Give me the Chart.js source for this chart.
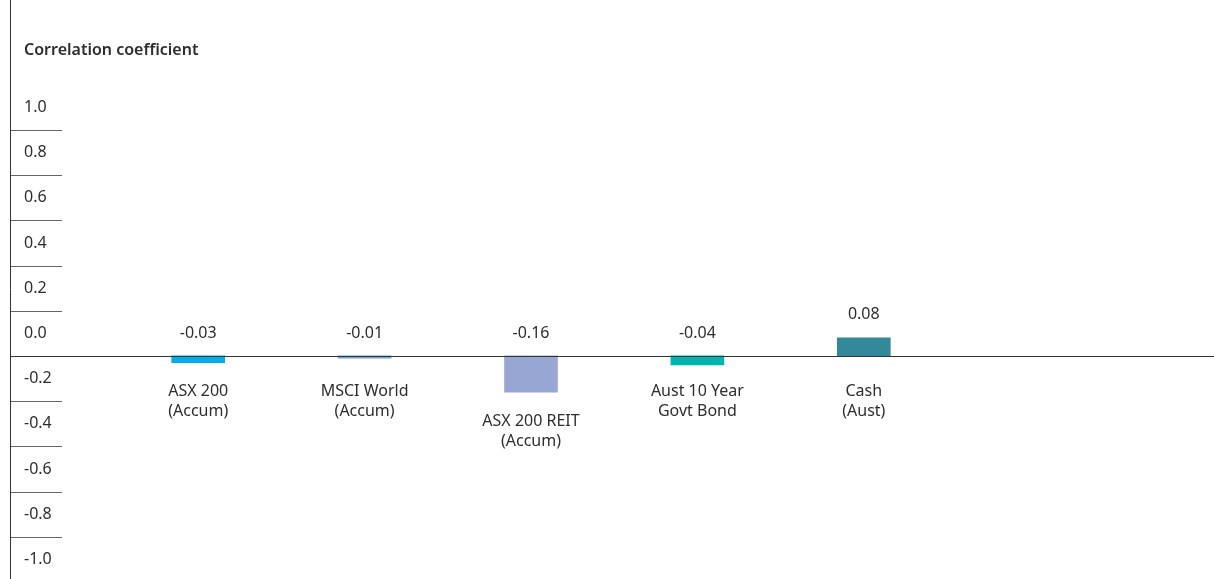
<!DOCTYPE html>
<html>
<head>
<meta charset="utf-8">
<script src="https://cdn.jsdelivr.net/npm/chart.js@4"></script>
<style>
  html, body { margin: 0; padding: 0; background: #fff; }
  #wrap { width: 1214px; height: 579px; position: relative; }
</style>
</head>
<body>
<div id="wrap"><canvas id="chart"></canvas></div>
<script>
const categories = [
  ["ASX 200", "(Accum)"],
  ["MSCI World", "(Accum)"],
  ["ASX 200 REIT", "(Accum)"],
  ["Aust 10 Year", "Govt Bond"],
  ["Cash", "(Aust)"]
];
const correlations = [-0.03, -0.01, -0.16, -0.04, 0.08];
const tickValues = [1.0, 0.8, 0.6, 0.4, 0.2, 0.0, -0.2, -0.4, -0.6, -0.8, -1.0];
const tickLabels = ["1.0", "0.8", "0.6", "0.4", "0.2", "0.0", "-0.2", "-0.4", "-0.6", "-0.8", "-1.0"];
const axisTitle = "Correlation coefficient";

const barColors = ["#00adee", "#6ca6d9", "#98a6d3", "#00b6b0", "#33889a"];
const FONT = "'Noto Sans', sans-serif";
const TEXT = "#2e2e2e";

// axis, tick stubs, value labels and category labels
const decor = {
  id: "decor",
  afterDraw(chart) {
    const ctx = chart.ctx;
    const y = chart.scales.y;
    const x = chart.scales.x;
    const zero = y.getPixelForValue(0);
    ctx.save();

    ctx.fillStyle = TEXT;
    ctx.font = "600 16px " + FONT;
    ctx.textAlign = "left";
    ctx.textBaseline = "middle";
    ctx.fillText(axisTitle, 24, 50);

    ctx.font = "16px " + FONT;
    tickValues.forEach((v, i) => {
      ctx.fillText(tickLabels[i], 24, y.getPixelForValue(v + 0.1));
      if (v !== 0) {
        const py = Math.round(y.getPixelForValue(v)) + 0.5;
        ctx.strokeStyle = "#666";
        ctx.lineWidth = 1;
        ctx.beginPath();
        ctx.moveTo(10, py);
        ctx.lineTo(62, py);
        ctx.stroke();
      }
    });

    ctx.strokeStyle = "#333";
    ctx.lineWidth = 1;
    ctx.beginPath();
    ctx.moveTo(10.5, 0);
    ctx.lineTo(10.5, chart.height);
    ctx.moveTo(10, Math.round(zero) + 0.5);
    ctx.lineTo(chart.width, Math.round(zero) + 0.5);
    ctx.stroke();

    ctx.textAlign = "center";
    correlations.forEach((v, i) => {
      const cx = x.getPixelForValue(i);
      const top = y.getPixelForValue(Math.max(v, 0));
      ctx.font = "16px " + FONT;
      ctx.fillText(v.toFixed(2), cx, top - 23);
      const low = y.getPixelForValue(Math.min(v, 0));
      const start = low > zero + 25 ? low + 29 : zero + 35;
      categories[i].forEach((line, j) => {
        ctx.fillText(line, cx, start + j * 20.5);
      });
    });
    ctx.restore();
  }
};

new Chart(document.getElementById("chart"), {
  type: "bar",
  data: {
    labels: categories.map(c => c.join(" ")),
    datasets: [{
      data: correlations,
      backgroundColor: barColors,
      barThickness: 53,
      borderWidth: 0
    }]
  },
  options: {
    responsive: true,
    maintainAspectRatio: false,
    animation: false,
    layout: { padding: { left: 115, right: 267, top: 0, bottom: 0 } },
    plugins: { legend: { display: false }, tooltip: { enabled: false } },
    scales: {
      x: { display: false },
      y: { display: false, min: -0.987, max: 1.575 }
    }
  },
  plugins: [decor]
});
</script>
</body>
</html>
